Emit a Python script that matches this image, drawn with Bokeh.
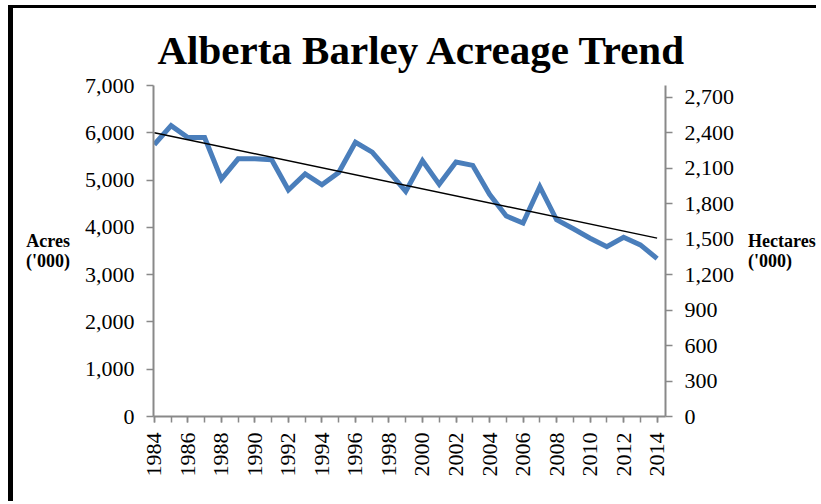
import numpy as np
from bokeh.plotting import figure
from bokeh.models import (Range1d, LinearAxis, FixedTicker, SingleIntervalTicker,
                          NumeralTickFormatter, Title)
from bokeh.embed import file_html
from bokeh.resources import INLINE

years = list(range(1984, 2015))
acres = [5750, 6150, 5900, 5900, 5020, 5450, 5450, 5430, 4790, 5130, 4900,
         5160, 5800, 5590, 5180, 4760, 5410, 4910, 5380, 5310, 4700, 4240,
         4090, 4860, 4160, 3970, 3770, 3590, 3790, 3630, 3340]
acre_ticks = [0, 1000, 2000, 3000, 4000, 5000, 6000, 7000]
hectare_ticks = [0, 300, 600, 900, 1200, 1500, 1800, 2100, 2400, 2700]
title_text = "Alberta Barley Acreage Trend"
left_label = "Acres\n('000)"
right_label = "Hectares\n('000)"

slope, intercept = np.polyfit(years, acres, 1)
trend_x = [years[0], years[-1]]
trend_y = [slope * x + intercept for x in trend_x]

SERIF = "Liberation Serif"
AXIS_COL = "#898989"

p = figure(width=808, height=496, output_backend="svg", toolbar_location=None,
           x_range=Range1d(1983.95, 2014.5), y_range=Range1d(0, 7000),
           min_border_left=140, min_border_right=156, min_border_top=77,
           min_border_bottom=88)
p.styles = {"margin-left": "8px", "margin-top": "5px",
            "border-left": "5px solid black", "border-top": "3px solid black"}
p.outline_line_color = None
p.xgrid.visible = False
p.ygrid.visible = False
p.background_fill_color = "white"
p.border_fill_color = "white"

p.title = Title(text=title_text, text_font=SERIF, text_font_style="bold",
                text_font_size="41px", align="left", offset=4, standoff=26,
                text_color="black")

p.line(years, acres, line_color="#4A7EBB", line_width=5, line_join="miter")
p.line(trend_x, trend_y, line_color="black", line_width=1.5)

# x axis
xa = p.xaxis[0]
xa.ticker = SingleIntervalTicker(interval=2, num_minor_ticks=2)
xa.major_label_orientation = np.pi / 2
xa.major_label_text_font = SERIF
xa.major_label_text_font_size = "22px"
xa.major_label_text_color = "black"
xa.major_label_standoff = 10
xa.axis_line_color = AXIS_COL
xa.axis_line_width = 2
xa.major_tick_line_color = AXIS_COL
xa.minor_tick_line_color = AXIS_COL
xa.major_tick_line_width = 1.5
xa.minor_tick_line_width = 1.5
xa.major_tick_in = 0
xa.major_tick_out = 6
xa.minor_tick_in = 0
xa.minor_tick_out = 6

# left y axis
ya = p.yaxis[0]
ya.ticker = FixedTicker(ticks=acre_ticks)
ya.formatter = NumeralTickFormatter(format="0,0")
ya.major_label_text_font = SERIF
ya.major_label_text_font_size = "22px"
ya.major_label_text_color = "black"
ya.major_label_standoff = 12
ya.axis_line_color = AXIS_COL
ya.axis_line_width = 2
ya.major_tick_line_color = AXIS_COL
ya.major_tick_line_width = 1.5
ya.major_tick_in = 0
ya.major_tick_out = 7
ya.minor_tick_line_color = None
ya.axis_label = left_label
ya.axis_label_orientation = "horizontal"
ya.axis_label_text_font = SERIF
ya.axis_label_text_font_style = "bold"
ya.axis_label_text_font_size = "18px"
ya.axis_label_text_line_height = 1.0
ya.axis_label_text_color = "black"
ya.axis_label_standoff = 12

# right y axis
p.extra_y_ranges = {"ha": Range1d(0, 2800)}
ra = LinearAxis(y_range_name="ha", ticker=FixedTicker(ticks=hectare_ticks),
                formatter=NumeralTickFormatter(format="0,0"))
ra.major_label_text_font = SERIF
ra.major_label_text_font_size = "22px"
ra.major_label_text_color = "black"
ra.major_label_standoff = 12
ra.axis_line_color = AXIS_COL
ra.axis_line_width = 2
ra.major_tick_line_color = AXIS_COL
ra.major_tick_line_width = 1.5
ra.major_tick_in = 0
ra.major_tick_out = 7
ra.minor_tick_line_color = None
ra.axis_label = right_label
ra.axis_label_orientation = "horizontal"
ra.axis_label_text_font = SERIF
ra.axis_label_text_font_style = "bold"
ra.axis_label_text_font_size = "18px"
ra.axis_label_text_line_height = 1.0
ra.axis_label_text_color = "black"
ra.axis_label_standoff = 11
p.add_layout(ra, "right")

open("out.html", "w").write(file_html(p, INLINE))
